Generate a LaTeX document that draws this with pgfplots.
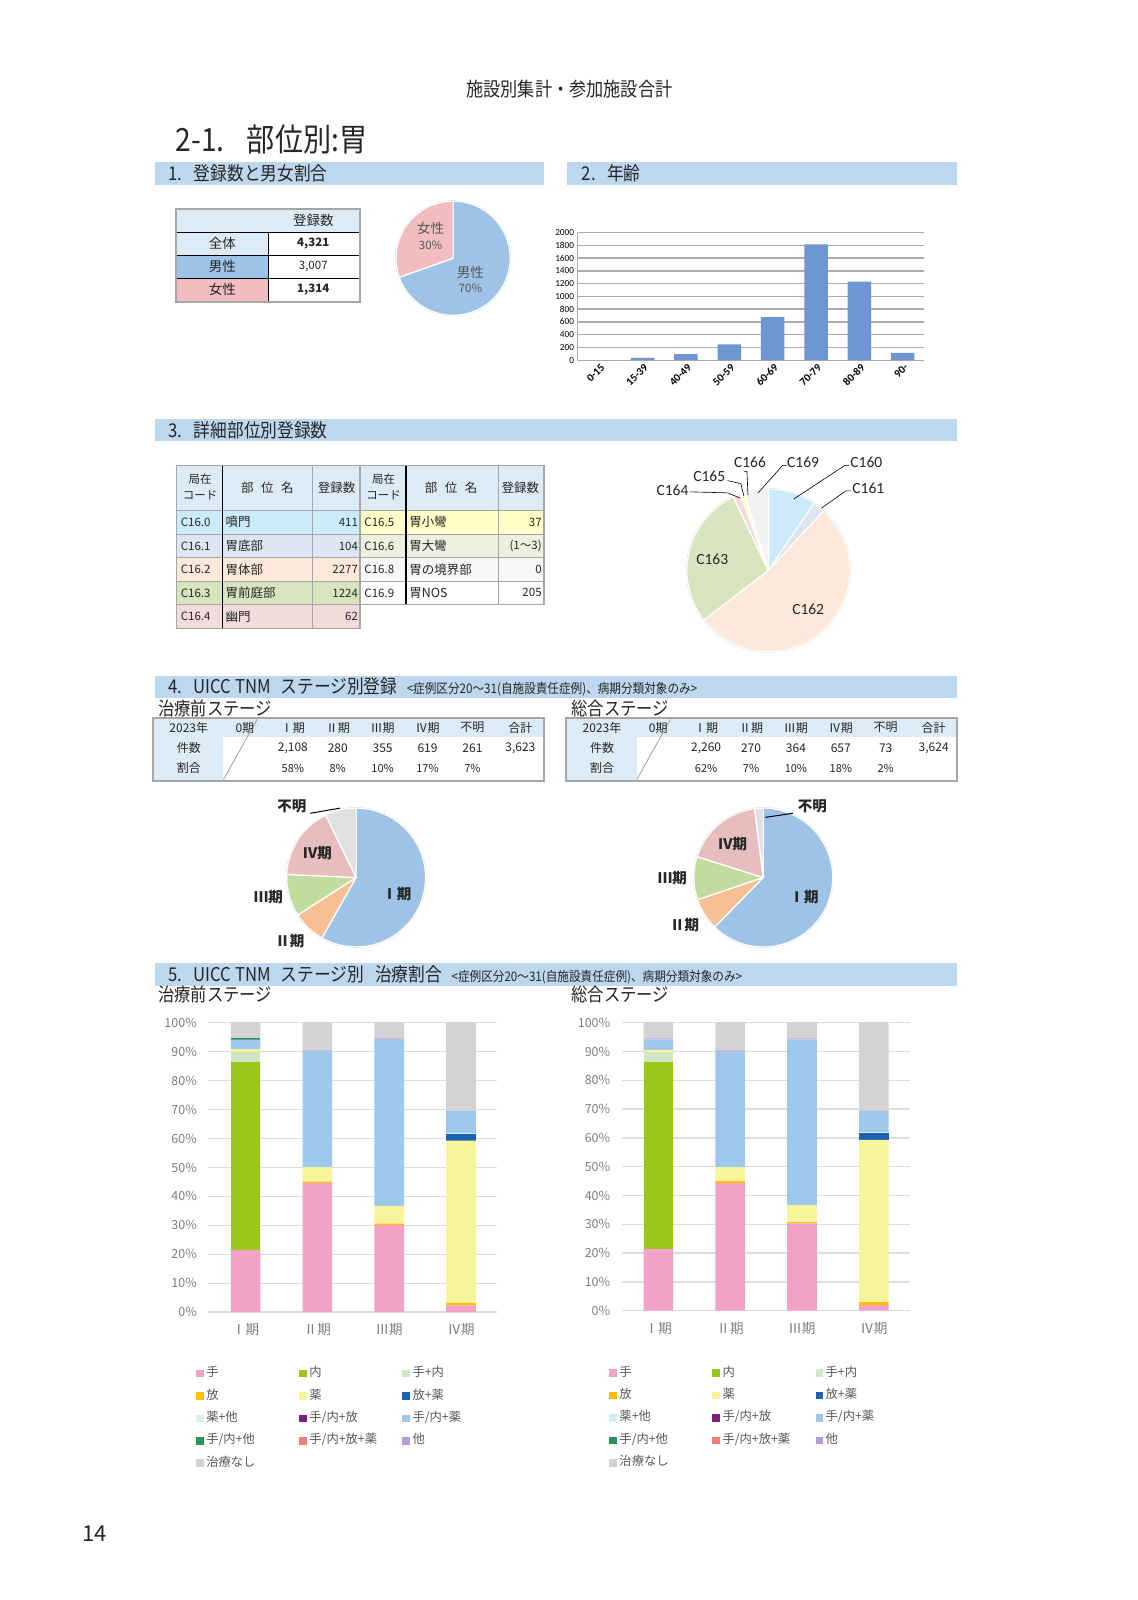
\documentclass[border=0pt]{standalone}
\usepackage{fontspec}
\setmainfont{Noto Sans CJK JP}
\newfontfamily\cjkn[FakeStretch=0.88]{Noto Sans CJK JP}
\newfontfamily\carl{Carlito}
\usepackage{pgfplots}
\pgfplotsset{compat=1.18}
\usepackage{pgfplotstable}
\newcommand{\fs}[1]{\fontsize{#1}{#1}\selectfont}

\definecolor{txt}{HTML}{262626}
\definecolor{band}{HTML}{BDD7EE}
\definecolor{hdr}{HTML}{DDEBF7}
\definecolor{tbl}{HTML}{A6A6A6}
\definecolor{male}{HTML}{9DC3E6}
\definecolor{female}{HTML}{F2BDC1}
\definecolor{agebar}{HTML}{6E96D2}
\definecolor{agegrid}{HTML}{ABABAB}
\definecolor{pierim}{HTML}{D0D0D0}
% site colours
\definecolor{s0}{HTML}{CCEBFA}
\definecolor{s1}{HTML}{DCE6F2}
\definecolor{s2}{HTML}{FDE9D9}
\definecolor{s3}{HTML}{D7E4BD}
\definecolor{s4}{HTML}{F2DCDB}
\definecolor{s5}{HTML}{FFFFC8}
\definecolor{s6}{HTML}{EBF1DE}
\definecolor{s8}{HTML}{F7F7F7}
\definecolor{s9}{HTML}{F2F2F2}
% stage colours
\definecolor{st1}{HTML}{9DC3E6}
\definecolor{st2}{HTML}{F7BF94}
\definecolor{st3}{HTML}{C2DB9E}
\definecolor{st4}{HTML}{E8BDBD}
\definecolor{stx}{HTML}{E0E0E0}
% treatment colours
\definecolor{cte}{HTML}{F2A2C4}
\definecolor{cnai}{HTML}{99C618}
\definecolor{ctn}{HTML}{D0E6C5}
\definecolor{chou}{HTML}{FFC000}
\definecolor{cyak}{HTML}{F8F49B}
\definecolor{chy}{HTML}{1D62B0}
\definecolor{cyt}{HTML}{D3EDF5}
\definecolor{ctnh}{HTML}{7B1F7D}
\definecolor{ctny}{HTML}{9DC7EB}
\definecolor{ctnt}{HTML}{2A935A}
\definecolor{ctnhy}{HTML}{F07C7C}
\definecolor{cta}{HTML}{B79CD0}
\definecolor{cna}{HTML}{D3D3D3}
\definecolor{tgray}{HTML}{7F7F7F}
\definecolor{lgray}{HTML}{595959}
\definecolor{gridl}{HTML}{DDDDDD}

% age distribution
\pgfplotstableread{
x n
0 2
1 37
2 95
3 247
4 674
5 1816
6 1232
7 116
}\agetbl

% treatment shares (%), pre-treatment stage
\pgfplotstableread{
x te nai tn hou yak hy yt tnh tny tnt tnhy ta na
0 21.5 64.8 3.6 0.1 0.8 0.0 0.1 0.0 3.3 0.4 0.0 0.0 5.4
1 44.7 0.0 0.0 0.4 5.0 0.0 0.0 0.0 40.0 0.0 0.0 0.4 9.5
2 30.2 0.0 0.0 0.4 6.1 0.0 0.0 0.0 57.5 0.0 0.0 0.4 5.4
3 2.3 0.0 0.0 0.9 56.1 2.3 0.3 0.0 7.6 0.0 0.0 0.0 30.5
}\pretbl

% treatment shares (%), overall stage
\pgfplotstableread{
x te nai tn hou yak hy yt tnh tny tnt tnhy ta na
0 21.4 64.9 3.5 0.0 0.8 0.0 0.0 0.0 3.6 0.0 0.0 0.4 5.4
1 44.4 0.0 0.0 0.6 4.9 0.0 0.0 0.0 40.1 0.0 0.0 0.4 9.6
2 30.3 0.0 0.0 0.5 5.9 0.0 0.0 0.0 57.5 0.0 0.0 0.4 5.4
3 2.0 0.0 0.0 1.0 56.3 2.5 0.2 0.0 7.4 0.0 0.0 0.0 30.6
}\alltbl

\pgfplotsset{
  sq/.style={draw=none, legend image code/.code={\fill[##1] (0pt,-3.8pt) rectangle (7.6pt,3.8pt);}},
  pieax/.style={anchor=center, hide axis, scale only axis, clip=false,
    xmin=-1, xmax=1, ymin=-1, ymax=1},
  stackax/.style={anchor=south west, scale only axis, ybar stacked, bar width=29.6pt,
    ymin=0, ymax=100, xtick={0,1,2,3}, xticklabels={Ⅰ期,Ⅱ期,Ⅲ期,Ⅳ期},
    ytick={0,10,20,30,40,50,60,70,80,90,100},
    yticklabels={0\%,10\%,20\%,30\%,40\%,50\%,60\%,70\%,80\%,90\%,100\%},
    ymajorgrids, grid style={draw=gridl, line width=1.3pt},
    axis line style={draw=none}, major tick length=0pt,
    tick label style={text=tgray},
    yticklabel style={font=\fs{12.5}, xshift=-8pt},
    xticklabel style={font=\fs{13.5}, yshift=-8pt},
    legend columns=3,
    legend style={draw=none, fill=none, font=\fs{12.3}, text=lgray, anchor=north west,
      row sep=11.4pt, nodes={inner sep=0pt, text height=8.5pt, text depth=2.5pt},
      /tikz/every odd column/.append style={column sep=2.5pt},
      /tikz/every even column/.append style={text width=93pt, align=left}}}
}

% pie drawn clockwise from 12 o'clock; #1 radius, #2 value/colour list
\newcommand{\pieslices}[2]{%
  \pgfplotsextra{%
    \gdef\pietot{0}%
    \foreach \pv/\pc in {#2}{\pgfmathsetmacro\tmpv{\pietot+\pv}\xdef\pietot{\tmpv}}%
    \draw[pierim, line width=1.6pt] (axis cs:0,0) circle[radius=#1];
    \gdef\piecum{0}%
    \foreach \pv/\pc in {#2}{%
      \pgfmathsetmacro\sa{90-\piecum/\pietot*360}%
      \pgfmathsetmacro\tmpv{\piecum+\pv}\xdef\piecum{\tmpv}%
      \pgfmathsetmacro\ea{90-\piecum/\pietot*360}%
      \filldraw[fill=\pc, draw=white, line width=1.2pt, line join=round]
        (axis cs:0,0) -- ++(\sa:#1) arc[start angle=\sa, end angle=\ea, radius=#1] -- cycle;
    }}}

\newcommand{\stackplots}[1]{%
  \addplot[sq, fill=cte]   table[x=x,y=te]{#1};   \addlegendentry{手}
  \addplot[sq, fill=cnai]  table[x=x,y=nai]{#1};  \addlegendentry{内}
  \addplot[sq, fill=ctn]   table[x=x,y=tn]{#1};   \addlegendentry{手+内}
  \addplot[sq, fill=chou]  table[x=x,y=hou]{#1};  \addlegendentry{放}
  \addplot[sq, fill=cyak]  table[x=x,y=yak]{#1};  \addlegendentry{薬}
  \addplot[sq, fill=chy]   table[x=x,y=hy]{#1};   \addlegendentry{放+薬}
  \addplot[sq, fill=cyt]   table[x=x,y=yt]{#1};   \addlegendentry{薬+他}
  \addplot[sq, fill=ctnh]  table[x=x,y=tnh]{#1};  \addlegendentry{手/内+放}
  \addplot[sq, fill=ctny]  table[x=x,y=tny]{#1};  \addlegendentry{手/内+薬}
  \addplot[sq, fill=ctnt]  table[x=x,y=tnt]{#1};  \addlegendentry{手/内+他}
  \addplot[sq, fill=ctnhy] table[x=x,y=tnhy]{#1}; \addlegendentry{手/内+放+薬}
  \addplot[sq, fill=cta]   table[x=x,y=ta]{#1};   \addlegendentry{他}
  \addplot[sq, fill=cna]   table[x=x,y=na]{#1};   \addlegendentry{治療なし}
}

\begin{document}
\begin{tikzpicture}[x=1.0204pt, y=-1.0204pt, t/.style={inner sep=0pt, text=txt}]
\path[use as bounding box, fill=white] (0,0) rectangle (1115.2,1568);

% ---- page header ----
\node[t, font=\cjkn\fs{19.5}] at (558,87) {施設別集計・参加施設合計};
\node[t, font=\cjkn\fs{32}, anchor=west] at (172,137) {2-1.\hspace{0.7em}部位別:胃};

% ---- section bands ----
\fill[band] (152,159) rectangle (533,181);
\fill[band] (556,159) rectangle (938,181);
\fill[band] (152,411) rectangle (938,432);
\fill[band] (152,662) rectangle (938,684);
\fill[band] (152,944) rectangle (938,966);
\node[t, font=\cjkn\fs{19}, anchor=west] at (165,170) {1.\hspace{0.6em}登録数と男女割合};
\node[t, font=\cjkn\fs{19}, anchor=west] at (570,170) {2.\hspace{0.6em}年齢};
\node[t, font=\cjkn\fs{19}, anchor=west] at (165,422) {3.\hspace{0.6em}詳細部位別登録数};
\node[t, font=\cjkn\fs{19}, anchor=west] at (165,673) {4.\hspace{0.6em}UICC TNM\hspace{0.5em}ステージ別登録\hspace{0.5em}{\fs{13.2}<症例区分20～31(自施設責任症例)、病期分類対象のみ>}};
\node[t, font=\cjkn\fs{19}, anchor=west] at (165,955) {5.\hspace{0.6em}UICC TNM\hspace{0.5em}ステージ別\hspace{0.6em}治療割合\hspace{0.5em}{\fs{13.2}<症例区分20～31(自施設責任症例)、病期分類対象のみ>}};

% ---- 1. table ----
\fill[hdr] (172.5,205) rectangle (353,227.5);
\fill[hdr] (172.5,227.5) rectangle (262.7,250);
\fill[male] (172.5,250) rectangle (262.7,272.5);
\fill[female] (172.5,272.5) rectangle (262.7,296);
\draw[black, line width=0.9pt] (172.5,227.5) -- (353,227.5) (172.5,250) -- (353,250)
  (172.5,272.5) -- (353,272.5) (262.7,227.5) -- (262.7,296);
\draw[tbl, line width=1.6pt] (172.5,205) rectangle (353,296);
\node[t, font=\fs{13.5}] at (307,216) {登録数};
\node[t, font=\fs{13.5}] at (218,238.5) {全体};
\node[t, font=\fs{13.5}] at (218,261) {男性};
\node[t, font=\fs{13.5}] at (218,284) {女性};
\node[t, font=\bfseries\fs{11.5}] at (307,238.5) {4,321};
\node[t, font=\fs{11.5}] at (307,261) {3,007};
\node[t, font=\bfseries\fs{11.5}] at (307,284) {1,314};

% pie: sex
\begin{axis}[pieax, at={(453.1pt,-258.2pt)}, width=114.3pt, height=114.3pt]
\addplot[draw=none] coordinates {(0,0)};
\pieslices{57.1pt}{3007/male,1314/female}
\end{axis}
\node[t, font=\fs{13.5}, text=lgray] at (422,224) {女性};
\node[t, font=\fs{11.5}, text=lgray] at (422,240) {30\%};
\node[t, font=\fs{13.5}, text=lgray] at (461,267) {男性};
\node[t, font=\fs{11.5}, text=lgray] at (461,283) {70\%};

% ---- 2. age ----
\begin{axis}[at={(577.5pt,-360.2pt)}, anchor=south west, scale only axis,
  width=346.9pt, height=127.6pt,
  ybar, bar width=23.5pt, xmin=-0.5, xmax=7.5, ymin=0, ymax=2000,
  ytick={0,200,...,2000}, xtick={0,...,7},
  xticklabels={0-15,15-39,40-49,50-59,60-69,70-79,80-89,90-},
  ymajorgrids, grid style={draw=agegrid, line width=1.4pt},
  axis x line*=bottom, axis y line*=left, axis line style={draw=agegrid, line width=1pt},
  major tick length=0pt,
  /pgf/number format/assume math mode=true, /pgf/number format/1000 sep={},
  scaled y ticks=false,
  yticklabel style={font=\carl\fs{9.2}, text=black},
  xticklabel style={font=\carl\bfseries\fs{11}, xshift=6pt, yshift=-3pt, rotate=45, anchor=east},
  clip=false]
\addplot[fill=agebar, draw=none] table[x=x,y=n]{\agetbl};
\end{axis}

% ---- 3. site table ----
\fill[hdr] (173,456) rectangle (533,500);
\foreach \ya/\yb/\cl in {500/523.5/s0, 523.5/546.5/s1, 546.5/569.5/s2, 569.5/592.5/s3, 592.5/616/s4}
  {\fill[\cl] (173,\ya) rectangle (353,\yb);}
\foreach \ya/\yb/\cl in {500/523.5/s5, 523.5/546.5/s6, 546.5/569.5/s8, 569.5/592.5/white}
  {\fill[\cl] (353,\ya) rectangle (533,\yb);}
\draw[tbl, line width=0.8pt] (173,500) -- (533,500) (173,523.5) -- (533,523.5)
  (173,546.5) -- (533,546.5) (173,569.5) -- (533,569.5) (173,592.5) -- (353,592.5)
  (306,456) -- (306,616) (488,456) -- (488,592.5);
\draw[black, line width=1.3pt] (218,456) -- (218,616) (398,456) -- (398,592.5);
\draw[tbl, line width=1.6pt] (173,456) rectangle (353,616) (353,456) rectangle (533,592.5);
\foreach \xo in {0,180}{
  \node[t, font=\fs{11.5}] at (196+\xo,470) {局在};
  \node[t, font=\fs{11.5}] at (196+\xo,485) {コード};
  \node[t, font=\fs{12.5}] at (262+\xo,478) {部\hspace{0.6em}位\hspace{0.6em}名};
  \node[t, font=\fs{12.5}] at (330+\xo,478) {登録数};
}
\foreach \y/\cd/\nm/\v in {511.7/C16.0/噴門/411, 535/C16.1/胃底部/104, 558/C16.2/胃体部/2277,
  581/C16.3/胃前庭部/1224, 604.2/C16.4/幽門/62}{
  \node[t, font=\fs{11.5}, anchor=west] at (177,\y) {\cd};
  \node[t, font=\fs{12.5}, anchor=west] at (221,\y) {\nm};
  \node[t, font=\fs{11.5}, anchor=east] at (351,\y) {\v};
}
\foreach \y/\cd/\nm/\v in {511.7/C16.5/胃小彎/37, 535/C16.6/胃大彎/(1～3), 558/C16.8/胃の境界部/0,
  581/C16.9/胃NOS/205}{
  \node[t, font=\fs{11.5}, anchor=west] at (357,\y) {\cd};
  \node[t, font=\fs{12.5}, anchor=west] at (401,\y) {\nm};
  \node[t, font=\fs{11.5}, anchor=east] at (531,\y) {\v};
}

% pie: sites
\begin{axis}[pieax, at={(768.4pt,-570.4pt)}, width=163pt, height=163pt]
\addplot[draw=none] coordinates {(0,0)};
\pieslices{81.5pt}{411/s0,104/s1,2277/s2,1224/s3,62/s4,37/s5,2/s6,205/s9}
\end{axis}
\begin{scope}[every node/.style={t, font=\carl\fs{15.5}}]
\node at (735,453) {C166};
\node at (787,453) {C169};
\node at (849,453) {C160};
\node at (695,467) {C165};
\node at (659,481) {C164};
\node at (851,479) {C161};
\node at (698,548) {C163};
\node at (792,597) {C162};
\end{scope}
\draw[black, line width=0.6pt] (676,482) -- (713,483) -- (725,488);
\draw[black, line width=0.6pt] (713,471) -- (726,474) -- (729,486);
\draw[black, line width=0.6pt] (729,462) -- (732,462) -- (733,485);
\draw[black, line width=0.6pt] (771,456) -- (767,456) -- (743,483);
\draw[black, line width=0.6pt] (832,456) -- (828,456) -- (778,489);
\draw[black, line width=0.6pt] (834,481) -- (829,481) -- (805,498);

% ---- 4. stage tables ----
\node[t, font=\cjkn\fs{18.5}, anchor=west] at (155,694) {治療前ステージ};
\node[t, font=\cjkn\fs{18.5}, anchor=west] at (560,694) {総合ステージ};
\foreach \xo in {0,405}{
  \fill[hdr] (150+\xo,704) rectangle (533+\xo,722);
  \fill[hdr] (150+\xo,704) rectangle (219+\xo,765);
  \draw[tbl, line width=0.9pt] (219+\xo,764) -- (252+\xo,705);
  \draw[tbl, line width=1.8pt] (150+\xo,704) rectangle (533+\xo,765);
  \node[t, font=\fs{12}] at (185+\xo,713) {2023年};
  \node[t, font=\fs{12}] at (185+\xo,733) {件数};
  \node[t, font=\fs{12}] at (185+\xo,753) {割合};
  \node[t, font=\fs{12}] at (240+\xo,713) {0期};
  \node[t, font=\fs{12}] at (287+\xo,713) {Ⅰ期};
  \node[t, font=\fs{12}] at (331+\xo,713) {Ⅱ期};
  \node[t, font=\fs{12}] at (375+\xo,713) {Ⅲ期};
  \node[t, font=\fs{12}] at (419+\xo,713) {Ⅳ期};
  \node[t, font=\fs{12}] at (463+\xo,713) {不明};
  \node[t, font=\fs{12}] at (510+\xo,713) {合計};
}
\foreach \x/\a/\b in {287/2{,}108/58\%, 331/280/8\%, 375/355/10\%, 419/619/17\%, 463/261/7\%, 510/3{,}623/}{
  \node[t, font=\fs{12}] at (\x,733) {\a};
  \node[t, font=\fs{11}] at (\x,753) {\b};
}
\foreach \x/\a/\b in {692/2{,}260/62\%, 736/270/7\%, 780/364/10\%, 824/657/18\%, 868/73/2\%, 915/3{,}624/}{
  \node[t, font=\fs{12}] at (\x,733) {\a};
  \node[t, font=\fs{11}] at (\x,753) {\b};
}

% stage pies
\begin{axis}[pieax, at={(356.1pt,-877.5pt)}, width=138.8pt, height=138.8pt]
\addplot[draw=none] coordinates {(0,0)};
\pieslices{69.4pt}{2108/st1,280/st2,355/st3,619/st4,261/stx}
\end{axis}
\begin{axis}[pieax, at={(763.3pt,-877.5pt)}, width=138.8pt, height=138.8pt]
\addplot[draw=none] coordinates {(0,0)};
\pieslices{69.4pt}{2260/st1,270/st2,364/st3,657/st4,73/stx}
\end{axis}
\begin{scope}[every node/.style={t, font=\bfseries\fs{14.5}}]
\node at (286,790) {不明};
\node at (311,836) {Ⅳ期};
\node at (263,879) {Ⅲ期};
\node at (284,922) {Ⅱ期};
\node at (389,876) {Ⅰ期};
\node at (796,790) {不明};
\node at (718,827) {Ⅳ期};
\node at (659,861) {Ⅲ期};
\node at (671,907) {Ⅱ期};
\node at (788,879) {Ⅰ期};
\end{scope}
\draw[black, line width=1pt] (304,797) -- (333,792);
\draw[black, line width=1pt] (777,797) -- (750,801);

% ---- 5. treatment shares ----
\node[t, font=\cjkn\fs{18.5}, anchor=west] at (155,975) {治療前ステージ};
\node[t, font=\cjkn\fs{18.5}, anchor=west] at (560,975) {総合ステージ};
\begin{axis}[stackax, at={(208.3pt,-1312.1pt)}, width=288.6pt, height=289.3pt,
  xmin=-0.52, xmax=3.5, legend style={at={(-0.053,-0.186)}}]
\stackplots{\pretbl}
\end{axis}
\begin{axis}[stackax, at={(621.7pt,-1310.7pt)}, width=288pt, height=288pt,
  xmin=-0.51, xmax=3.5, legend style={at={(-0.054,-0.19)}}]
\stackplots{\alltbl}
\end{axis}

% page number
\node[t, font=\fs{22}] at (93,1503) {14};
\end{tikzpicture}
\end{document}
